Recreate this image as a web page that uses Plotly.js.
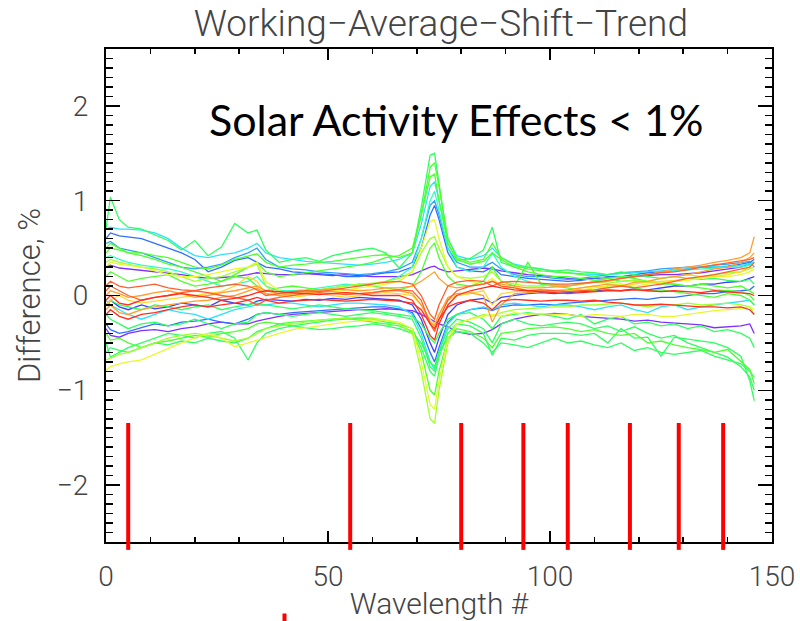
<!DOCTYPE html>
<html>
<head>
<meta charset="utf-8">
<script src="https://cdn.plot.ly/plotly-3.0.1.min.js"></script>
<style>html,body{margin:0;padding:0;background:#fff;}#chart{width:800px;height:621px;}</style>
</head>
<body>
<div id="chart"></div>
<script>
// Wavelength # sample positions shared by all curves
const wavelength = [0,1,3,5,8,11,14,17, 20,23,26,29,32,34,36,39, 42,45,48,51,54,57,60,63, 66,69,71,73,74,75,77,79, 82,85,87,89,92,95,98,101, 104,107,110,113,116,119,122,125, 128,131,134,137,140,143,145,146];

// Difference (%) curves, ordered purple -> red
const s01 = [.3,.32,.29,.28,.27,.25,.24,.22, .2,.18,.19,.2,.22,.24,.23,.22, .22,.23,.22,.21,.22,.21,.2,.2, .2,.22,.26,.3,.31,.28,.25,.26, .28,.29,.28,.26,.24,.22,.21,.2, .18,.17,.18,.19,.2,.2,.21,.22, .22,.23,.24,.26,.28,.3,.33,.35];
const s02 = [-.35,-.42,-.44,-.4,-.37,-.36,-.38,-.35, -.33,-.3,-.28,-.3,-.3,-.27,-.25,-.22, -.2,-.19,-.18,-.17,-.16,-.15,-.15,-.14, -.15,-.16,-.2,-.25,-.28,-.3,-.33,-.38, -.41,-.4,-.36,-.3,-.25,-.22,-.2,-.19, -.2,-.22,-.23,-.24,-.25,-.27,-.26,-.28, -.29,-.3,-.31,-.34,-.33,-.32,-.3,-.4];
const s03 = [-.1,-.05,-.12,-.15,-.1,-.14,-.12,-.08, -.1,-.12,-.05,-.08,-.1,-.06,-.04,-.05, -.06,-.04,-.05,-.03,-.04,-.02,-.03,-.04, -.05,-.1,-.25,-.5,-.6,-.45,-.2,-.1, -.05,-.03,-.08,-.02,0,.02,.03,.02, .03,.04,.05,.06,.05,.07,.06,.08, .1,.1,.12,.12,.14,.15,.18,.2];
const s04 = [.6,.66,.63,.62,.6,.55,.5,.45, .38,.25,.3,.37,.4,.35,.3,.28, .25,.24,.23,.22,.2,.2,.22,.24, .25,.3,.5,.85,.95,.8,.45,.3, .26,.25,.3,.22,.2,.18,.17,.16, .15,.16,.18,.2,.2,.22,.24,.25, .26,.28,.3,.3,.31,.33,.35,.38];
const s05 = [-.3,-.36,-.4,-.38,-.34,-.3,-.32,-.28, -.27,-.25,-.28,-.3,-.25,-.2,-.18,-.2, -.18,-.17,-.16,-.15,-.14,-.13,-.12,-.12, -.14,-.18,-.35,-.6,-.7,-.55,-.28,-.2, -.15,-.13,-.16,-.12,-.1,-.1,-.09,-.1, -.08,-.07,-.06,-.05,-.04,-.03,-.04,-.02, -.02,0,.02,.02,.04,.05,.06,.1];
const s06 = [.55,.57,.5,.48,.45,.4,.35,.3, .28,.3,.33,.4,.45,.5,.38,.3, .28,.27,.25,.24,.23,.22,.23,.25, .28,.35,.6,.95,1.0,.85,.5,.35, .3,.3,.35,.28,.22,.2,.2,.18, .17,.18,.2,.22,.24,.25,.26,.28, .29,.3,.3,.32,.33,.35,.36,.3];
const s07 = [.7,.72,.7,.7,.69,.66,.6,.5, .42,.4,.43,.45,.5,.55,.45,.4, .38,.36,.35,.34,.33,.32,.33,.35, .38,.45,.75,1.15,1.2,1.0,.6,.42, .38,.42,.5,.4,.33,.3,.28,.25, .24,.23,.22,.22,.23,.24,.25,.26, .27,.28,.3,.31,.3,.32,.33,.35];
const s08 = [-.05,-.1,-.15,-.2,-.25,-.2,-.15,-.18, -.2,-.25,-.2,-.15,-.12,-.1,-.1,-.08, -.08,-.1,-.12,-.1,-.08,-.08,-.09,-.1, -.12,-.2,-.4,-.7,-.78,-.6,-.3,-.2, -.15,-.12,-.15,-.1,-.08,-.1,-.12,-.1, -.1,-.12,-.15,-.12,-.1,-.15,-.18,-.12, -.1,-.15,-.12,-.1,-.08,-.06,-.05,-.1];
const s09 = [.4,.42,.38,.35,.32,.3,.28,.25, .2,.15,.1,.12,.15,.2,.1,.05, .05,.06,.08,.1,.12,.1,.12,.15, .2,.3,.6,1.0,1.1,.9,.5,.3, .25,.3,.45,.3,.2,.15,.12,.1, .1,.12,.15,.18,.2,.2,.22,.25, .26,.27,.28,.29,.3,.3,.32,.35];
const s10 = [.7,1.04,.8,.72,.7,.64,.58,.48, .58,.42,.51,.76,.66,.69,.48,.35, .38,.4,.36,.42,.45,.48,.5,.45, .29,.45,.93,1.48,1.5,1.2,.55,.37, .39,.48,.72,.35,.3,.3,.28,.26, .27,.25,.24,.22,.25,.22,.2,.18, .2,.18,.17,.18,.16,.15,.17,.12];
const s11 = [-.5,-.65,-.6,-.55,-.5,-.45,-.4,-.42, -.45,-.4,-.38,-.45,-.68,-.5,-.4,-.35, -.32,-.3,-.28,-.26,-.25,-.24,-.25,-.28, -.3,-.35,-.55,-.8,-.85,-.65,-.4,-.3, -.32,-.4,-.63,-.45,-.47,-.42,-.4,-.4, -.4,-.42,-.4,-.5,-.35,-.45,-.44,-.64, -.44,-.46,-.48,-.5,-.55,-.64,-.9,-1.11];
const s12 = [-.2,-.25,-.3,-.35,-.3,-.28,-.32,-.3, -.25,-.3,-.35,-.3,-.28,-.2,-.18,-.2, -.22,-.2,-.18,-.2,-.22,-.2,-.18,-.2, -.22,-.25,-.45,-.75,-.8,-.6,-.35,-.25, -.28,-.35,-.5,-.3,-.25,-.3,-.32,-.3, -.28,-.3,-.35,-.32,-.38,-.33,-.4,-.45, -.42,-.5,-.55,-.6,-.65,-.75,-.86,-1.0];
const s13 = [-.1,-.05,-.1,-.12,-.15,-.1,-.12,-.15, -.12,-.1,-.15,-.12,-.1,-.08,-.1,-.12, -.14,-.12,-.1,-.12,-.14,-.15,-.16,-.18, -.2,-.22,-.3,-.45,-.5,-.4,-.25,-.2, -.18,-.25,-.35,-.22,-.2,-.18,-.2,-.22, -.25,-.2,-.3,-.25,-.22,-.3,-.28,-.32, -.3,-.35,-.32,-.38,-.36,-.4,-.45,-.55];
const s14 = [-.6,-.55,-.58,-.6,-.55,-.5,-.52,-.48, -.5,-.45,-.48,-.5,-.45,-.38,-.35,-.3, -.32,-.34,-.36,-.35,-.33,-.32,-.3,-.32, -.35,-.4,-.5,-.7,-.75,-.6,-.45,-.38, -.4,-.5,-.6,-.5,-.52,-.55,-.5,-.45, -.5,-.48,-.52,-.55,-.5,-.58,-.55,-.6, -.62,-.6,-.58,-.64,-.68,-.72,-.8,-.86];
const s15 = [.5,.55,.5,.45,.45,.42,.4,.35, .3,.28,.32,.38,.42,.44,.35,.3, .32,.33,.35,.36,.38,.4,.42,.43, .4,.45,.85,1.35,1.4,1.15,.6,.4, .35,.38,.55,.4,.32,.28,.26,.25, .24,.22,.2,.18,.15,.16,.14,.12, .12,.1,.12,.1,.08,.1,.05,.02];
const s16 = [-.4,-.47,-.45,-.5,-.55,-.5,-.48,-.45, -.42,-.44,-.4,-.38,-.35,-.3,-.28,-.3, -.28,-.27,-.26,-.25,-.24,-.26,-.28,-.3, -.32,-.38,-.6,-1.0,-1.05,-.8,-.45,-.35, -.38,-.45,-.55,-.4,-.38,-.35,-.34,-.33, -.35,-.38,-.36,-.4,-.42,-.4,-.5,-.48, -.52,-.55,-.57,-.6,-.57,-.7,-.78,-.93];
const s17 = [.2,.25,.2,.15,.18,.2,.22,.15, .1,.12,.15,.2,.18,.1,.05,.08, .1,.08,.06,.08,.1,.12,.1,.08, .06,.1,.25,.5,.55,.4,.2,.12, .1,.15,.3,.15,.1,.35,.12,.1, .08,.06,.05,.1,.12,.08,.05,.06, .04,.02,0,-.02,.02,0,-.05,-.1];
const s18 = [.45,.5,.48,.45,.42,.38,.33,.3, .25,.2,.15,.22,.3,.35,.25,.2, .22,.24,.26,.28,.3,.32,.35,.4, .42,.5,.85,1.25,1.28,1.0,.55,.38, .33,.36,.45,.38,.3,.25,.22,.2, .2,.18,.16,.18,.2,.18,.15,.14, .12,.1,.08,.06,.05,.04,0,-.05];
const s19 = [.35,.38,.35,.33,.3,.28,.25,.2, .15,.18,.2,.25,.3,.33,.1,0, .02,.05,.06,.08,.1,.12,.13,.15, .18,.25,.45,.6,.62,.5,.3,.2, .18,.2,.25,.15,.12,.1,.1,.12, .1,.12,.14,.13,.15,.16,.15,.18, .2,.22,.2,.22,.24,.25,.28,.3];
const s20 = [-.68,-.66,-.62,-.6,-.55,-.5,-.45,-.42, -.4,-.42,-.45,-.48,-.45,-.4,-.35,-.32, -.3,-.28,-.26,-.25,-.24,-.23,-.24,-.26, -.3,-.4,-.8,-1.3,-1.35,-1.0,-.5,-.3, -.25,-.2,-.22,-.18,-.15,-.14,-.13,-.12, -.12,-.1,-.1,-.09,-.08,-.1,-.12,-.1, -.1,-.08,-.1,-.09,-.08,-.1,-.12,-.2];
const s21 = [.3,.35,.33,.32,.3,.26,.22,.2, .2,.22,.25,.28,.3,.35,.15,.05, 0,.02,.04,.05,.06,.08,.1,.12, .15,.25,.5,.78,.8,.6,.3,.2, .15,.12,.18,.1,.08,.06,.05,.06, .05,.06,.08,.1,.12,.1,.12,.14, .15,.16,.18,.2,.2,.22,.25,.28];
const s22 = [-.79,-.75,-.72,-.7,-.68,-.62,-.56,-.5, -.45,-.4,-.45,-.54,-.5,-.47,-.44,-.4, -.36,-.34,-.32,-.3,-.28,-.27,-.26,-.26, -.28,-.35,-.7,-1.15,-1.2,-.9,-.45,-.3, -.25,-.22,-.2,-.22,-.18,-.2,-.19,-.2, -.2,-.22,-.2,-.21,-.22,-.2,-.2,-.22, -.22,-.2,-.18,-.16,-.15,-.14,-.12,-.15];
const s23 = [-.1,-.05,0,-.05,-.08,-.06,-.04,-.02, 0,.02,.04,.1,.2,.15,.02,0, -.02,0,.02,0,-.02,0,.02,.03, .02,0,-.1,-.25,-.3,-.2,-.05,0, .02,.05,-.1,.02,.04,.05,.06,.05, .06,.08,.1,.08,.1,.12,.14,.15, .16,.18,.2,.2,.22,.25,.3,.35];
const s24 = [-.15,-.1,-.18,-.2,-.15,-.12,-.1,-.08, -.06,-.05,-.02,0,.05,.08,.02,0, .02,.03,.05,.04,.03,.02,.03,.05, .05,.02,-.1,-.28,-.32,-.2,-.02,.02, .03,0,-.28,-.1,.02,.03,.04,.05, .06,.08,.1,.12,.1,.14,.15,.18, .2,.22,.25,.28,.3,.35,.4,.45];
const s25 = [0,.05,.02,-.02,0,.03,.05,.02, -.02,0,.03,.05,.08,.1,.05,.02, .04,.05,.06,.07,.06,.05,.06,.08, .08,.1,.15,.22,.25,.18,.1,.08, .1,.12,.15,.12,.1,.08,.08,.09, .1,.12,.14,.15,.18,.2,.22,.25, .28,.3,.32,.35,.37,.4,.45,.62];
const s26 = [.05,.1,.05,0,-.05,-.02,0,.03, .05,.03,0,-.02,-.05,-.1,-.05,-.02, 0,.02,.03,.02,.01,.02,.03,.05, .06,.05,-.05,-.3,-.38,-.25,-.05,.05, .1,.12,.15,.1,.08,.05,.06,.05, .04,.05,.06,.08,.1,.08,.1,.12, .15,.18,.2,.22,.25,.28,.3,.35];
const s27 = [.1,.15,.1,.08,.1,.12,.08,.06, .05,.08,.1,.12,.1,.06,0,.02, .04,.05,.04,.06,.08,.1,.12,.14, .15,.12,0,-.2,-.25,-.1,.1,.14, .16,.15,.1,.14,.15,.14,.13,.12, .12,.13,.14,.16,.18,.2,.22,.24, .25,.27,.3,.32,.34,.36,.38,.4];
const s28 = [-.05,0,-.08,-.1,-.05,-.02,0,.02, 0,-.02,-.05,-.03,0,.03,.05,.04, .03,.02,.01,.02,.03,.02,0,0, 0,-.05,-.2,-.42,-.47,-.3,-.1,0, .05,.08,.1,.08,.06,.05,.04,.03, .02,.03,.04,.05,.05,.06,.05,.04, .05,.04,.03,.05,.04,.03,.02,0];
const s29 = [-.2,-.15,-.22,-.25,-.2,-.18,-.15,-.12, -.1,-.12,-.1,-.08,-.05,-.02,-.05,-.08, -.06,-.05,-.04,-.05,-.06,-.05,-.04,-.05, -.06,-.08,-.15,-.3,-.35,-.25,-.12,-.08, -.05,-.08,-.15,-.06,-.04,-.05,-.06,-.05, -.05,-.06,-.05,-.07,-.08,-.1,-.1,-.09, -.1,-.11,-.12,-.12,-.13,-.12,-.15,-.2];

const curves = [s01,s02,s03,s04,s05,s06,s07,s08,s09,s10,s11,s12,s13,s14,s15,s16,s17,s18,s19,s20,s21,s22,s23,s24,s25,s26,s27,s28,s29];
const curveColors = ['#7f2fff','#7f2fff','#3f3fff','#2f6fff','#2f6fff','#2fa0ff','#2fe0ff','#2fe0ff','#2fffc0',
  '#2fff5f','#2fff5f','#2fff5f','#2fff5f','#2fff5f','#4fff2f','#4fff2f','#4fff2f','#4fff2f',
  '#a0ff2f','#a0ff2f','#e8f82f','#e8f82f','#ffd82f','#ff9f2f','#ff9f2f','#ff5f2f','#ff5f2f','#ff2f1f','#ff2f1f'];

// Marked wavelength positions (red bars)
const markedWavelengths = [5, 55, 80, 94, 104, 118, 129, 139];
const markTop = -1.345;

const xRange = [0, 150];
const yRange = [-2.6, 2.6];

const traces = curves.map((ys, i) => ({
  x: wavelength, y: ys, type: 'scatter', mode: 'lines',
  line: {color: curveColors[i], width: 1.3}, hoverinfo: 'skip', showlegend: false
}));

const toPaperY = v => (v - yRange[0]) / (yRange[1] - yRange[0]);
const shapes = markedWavelengths.map(w => ({
  type: 'line', xref: 'x', yref: 'paper', x0: w, x1: w,
  y0: -0.016, y1: toPaperY(markTop), line: {color: '#ff0000', width: 4}, layer: 'above'
}));
shapes.push({type: 'rect', xref: 'paper', yref: 'paper', x0: 0.265, x1: 0.271, y0: -0.161, y1: -0.145,
  fillcolor: '#ff0000', line: {width: 0}});

const thinFont = 'Roboto, DejaVu Sans, sans-serif';
const tickFont = {family: thinFont, size: 28, color: '#444', weight: 300};

const layout = {
  width: 800, height: 621,
  margin: {l: 106, r: 28, t: 49, b: 79},
  paper_bgcolor: '#fff', plot_bgcolor: '#fff',
  title: {text: 'Working\u2212Average\u2212Shift\u2212Trend', x: 0.551, xanchor: 'center', y: 0.963, yanchor: 'middle',
    font: {family: thinFont, size: 37, color: '#444', weight: 300}},
  xaxis: {range: xRange, showgrid: false, zeroline: false, showline: true, linecolor: '#000', linewidth: 2,
    mirror: 'ticks', ticks: 'inside', ticklen: 11, tickwidth: 1.5, tickcolor: '#000', dtick: 50, tick0: 0,
    tickfont: tickFont, ticklabelstandoff: 8,
    minor: {dtick: 10, ticks: 'inside', ticklen: 5, tickwidth: 1.5, tickcolor: '#000', showgrid: false},
    title: {text: 'Wavelength #', font: {family: thinFont, size: 30, color: '#444', weight: 300}, standoff: 3}},
  yaxis: {range: yRange, showgrid: false, zeroline: false, showline: true, linecolor: '#000', linewidth: 2,
    mirror: 'ticks', ticks: 'inside', ticklen: 14, tickwidth: 1.5, tickcolor: '#000', dtick: 1, tick0: 0,
    tickfont: tickFont, ticklabelstandoff: 10,
    minor: {dtick: 0.1, ticks: 'inside', ticklen: 7, tickwidth: 1.5, tickcolor: '#000', showgrid: false},
    title: {text: 'Difference, %', font: {family: thinFont, size: 31, color: '#444', weight: 300}, standoff: 7}},
  shapes: shapes,
  annotations: [{text: 'Solar Activity Effects < 1%', xref: 'paper', yref: 'paper', x: 0.152, y: 0.856,
    xanchor: 'left', yanchor: 'middle', showarrow: false,
    font: {family: 'Lato, Open Sans, sans-serif', size: 43, color: '#000'}}]
};

Plotly.newPlot('chart', traces, layout, {displayModeBar: false, staticPlot: true});
</script>
</body>
</html>
